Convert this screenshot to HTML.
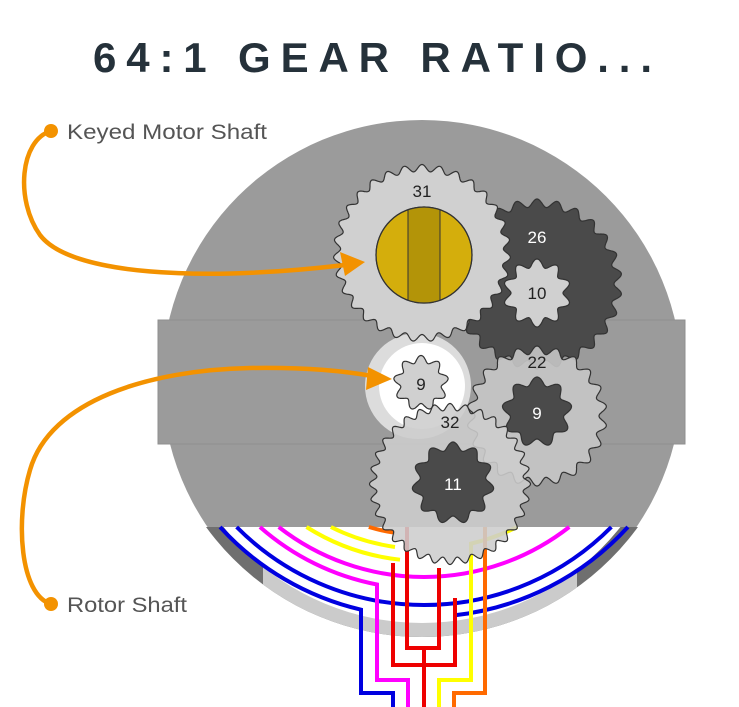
<!DOCTYPE html>
<html><head><meta charset="utf-8"><style>
html,body{margin:0;padding:0;background:#fff;}
svg{display:block;}
</style></head><body>
<svg id="art" width="739" height="707" viewBox="0 0 739 707" xmlns="http://www.w3.org/2000/svg">
<defs>
<clipPath id="lower"><rect x="0" y="527" width="739" height="180"/></clipPath>
<clipPath id="bottomband"><rect x="263" y="527" width="314" height="180"/></clipPath>
<clipPath id="shaftclip"><circle cx="424" cy="255" r="48"/></clipPath>
</defs>
<text x="93" y="72" textLength="559" lengthAdjust="spacing" font-family="Liberation Sans, sans-serif" font-weight="bold" font-size="42" fill="#25313a">64:1 GEAR RATIO...</text>

<g>
<circle cx="422" cy="380" r="260" fill="#9b9b9b"/>
<rect x="158" y="320" width="527" height="124" fill="#9b9b9b" stroke="#8f8f8f" stroke-width="1"/>
<g clip-path="url(#lower)">
<rect x="0" y="527" width="739" height="180" fill="#fff"/>
<circle cx="422" cy="370" r="267" fill="#6f6f6f"/>
<circle cx="422" cy="370" r="267" fill="#cbcbcb" clip-path="url(#bottomband)"/>
<circle cx="422" cy="370" r="253" fill="#fff"/>
</g>
</g>

<g id="wires" fill="none" stroke-width="4" stroke-linejoin="miter"></g>

<g id="gears"></g>

<g>
<circle cx="51" cy="131" r="7" fill="#f39200"/>
<path d="M51,131 C20,140 15,200 40,235 C70,275 200,282 345,265" fill="none" stroke="#f39200" stroke-width="4.5"/>
<polygon points="365,262 340,252 345,276" fill="#f39200"/>
<text x="67" y="139" font-family="Liberation Sans, sans-serif" font-size="21" fill="#555" textLength="200" lengthAdjust="spacingAndGlyphs">Keyed Motor Shaft</text>
</g>
<g>
<circle cx="51" cy="604" r="7" fill="#f39200"/>
<path d="M51,604 C20,595 15,520 30,470 C50,400 150,370 250,368 C310,367 350,372 372,376" fill="none" stroke="#f39200" stroke-width="4.5"/>
<polygon points="392,379 368,367 366,390" fill="#f39200"/>
<text x="67" y="612" font-family="Liberation Sans, sans-serif" font-size="21" fill="#555" textLength="120" lengthAdjust="spacingAndGlyphs">Rotor Shaft</text>
</g>
</svg>
<script>
var NS="http://www.w3.org/2000/svg";
var CX=424, CY=341;
function pt(r,side){var dx=Math.sqrt(r*r-(527-CY)*(527-CY));return [CX+side*dx,527];}
function atX(r,x){var dy=Math.sqrt(r*r-(x-CX)*(x-CX));return [x,CY+dy];}
function arc(r,a,b,sweep){return "M"+a[0]+","+a[1]+" A"+r+","+r+" 0 0 "+sweep+" "+b[0]+","+b[1];}
var wires=[
 ["#0000e0", (function(){var a=pt(276,-1),b=atX(276,361);return arc(276,a,b,0)+" L361,693 L393,693 L393,707";})(),"wire-blue-outer"],
 ["#0000e0", arc(264,pt(264,-1),pt(264,1),0),"wire-blue-inner"],
 ["#0000e0", arc(276,pt(276,1),atX(276,455),1)+" L455,598","wire-blue-right"],
 ["#ff00ff", (function(){var a=pt(248,-1),b=atX(248,377);return arc(248,a,b,0)+" L377,680 L408,680 L408,707";})(),"wire-magenta-outer"],
 ["#ff00ff", arc(236,pt(236,-1),pt(236,1),0),"wire-magenta-inner"],
 ["#ffff00", arc(220,pt(220,-1),atX(220,400),0),"wire-yellow-left-outer"],
 ["#ffff00", arc(208,pt(208,-1),atX(208,395),0),"wire-yellow-left-inner"],
 ["#ffff00", arc(208,pt(208,1),atX(208,471),1)+" L471,680 L439,680 L439,707","wire-yellow-right"],
 ["#ff6a00", arc(194,pt(194,-1),atX(194,395),0),"wire-orange-left"],
 ["#ff6a00", "M485,527 L485,693 L454,693 L454,707","wire-orange-right"],
 ["#ee0000", "M407,527 L407,648 L439,648 L439,568","wire-red-inner"],
 ["#ee0000", "M393,563 L393,665 L455,665 L455,598","wire-red-outer"],
 ["#ee0000", "M424,648 L424,707","wire-red-stem"]
];
var wg=document.getElementById('wires');
wires.forEach(function(w){var p=document.createElementNS(NS,'path');p.setAttribute('d',w[1]);p.setAttribute('stroke',w[0]);


wg.appendChild(p);});

function gearPath(cx,cy,R,A,n){var d="",N=n*24;for(var i=0;i<=N;i++){var t=i/N*2*Math.PI;var r=R+A*Math.cos(n*t);var x=cx+r*Math.sin(t),y=cy-r*Math.cos(t);d+=(i?"L":"M")+x.toFixed(1)+","+y.toFixed(1);}return d+"Z";}
var gg=document.getElementById('gears');
function gear(cx,cy,R,A,n,fill,op,name){var p=document.createElementNS(NS,'path');p.setAttribute('d',gearPath(cx,cy,R,A,n));p.setAttribute('fill',fill);p.setAttribute('stroke','#333');p.setAttribute('stroke-width','1.2');if(op)p.setAttribute('fill-opacity',op);


gg.appendChild(p);}
function label(x,y,t,c,name){var e=document.createElementNS(NS,'text');e.setAttribute('x',x);e.setAttribute('y',y);e.setAttribute('text-anchor','middle');e.setAttribute('font-family','Liberation Sans, sans-serif');e.setAttribute('font-size','17');e.setAttribute('fill',c);e.textContent=t;


gg.appendChild(e);}
function circ(cx,cy,r,fill,name,stroke){var c=document.createElementNS(NS,'circle');c.setAttribute('cx',cx);c.setAttribute('cy',cy);c.setAttribute('r',r);c.setAttribute('fill',fill);if(stroke){c.setAttribute('stroke',stroke);c.setAttribute('stroke-width','1.2');}


gg.appendChild(c);}

gear(537,284,81,4,26,'#4a4a4a',null,'gear-26');
gear(537,293,30,4,10,'#d0d0d0',null,'gear-10');
circ(418,386,53,'#dcdcdc','rotor-disk');
circ(422,386,43,'#ffffff','rotor-disk-center');
gear(537,416,66,4,22,'#c6c6c6',0.9,'gear-22');
gear(537,412,31,4,9,'#4a4a4a',null,'gear-9-dark');
gear(422,253,85,3.5,31,'#d0d0d0',null,'gear-31');
circ(424,255,48,'#d4ae0c','motor-shaft','#333');
var band=document.createElementNS(NS,'rect');band.setAttribute('x',408);band.setAttribute('y',200);band.setAttribute('width',32);band.setAttribute('height',110);band.setAttribute('fill','#b39408');band.setAttribute('stroke','#333');band.setAttribute('clip-path','url(#shaftclip)');


gg.appendChild(band);
circ(424,255,48,'none','motor-shaft-outline','#333');
gear(421,383,24,3.5,9,'#d0d0d0',null,'gear-9-rotor');
gear(450,484,77,3.5,32,'#cdcdcd',0.88,'gear-32');
gear(453,483,37,4,11,'#4a4a4a',null,'gear-11');
label(422,197,'31','#222','label-31');
label(537,243,'26','#fff','label-26');
label(537,299,'10','#222','label-10');
label(537,368,'22','#222','label-22');
label(537,419,'9','#fff','label-9-dark');
label(421,390,'9','#222','label-9-rotor');
label(450,428,'32','#222','label-32');
label(453,490,'11','#fff','label-11');
</script>
</body></html>
